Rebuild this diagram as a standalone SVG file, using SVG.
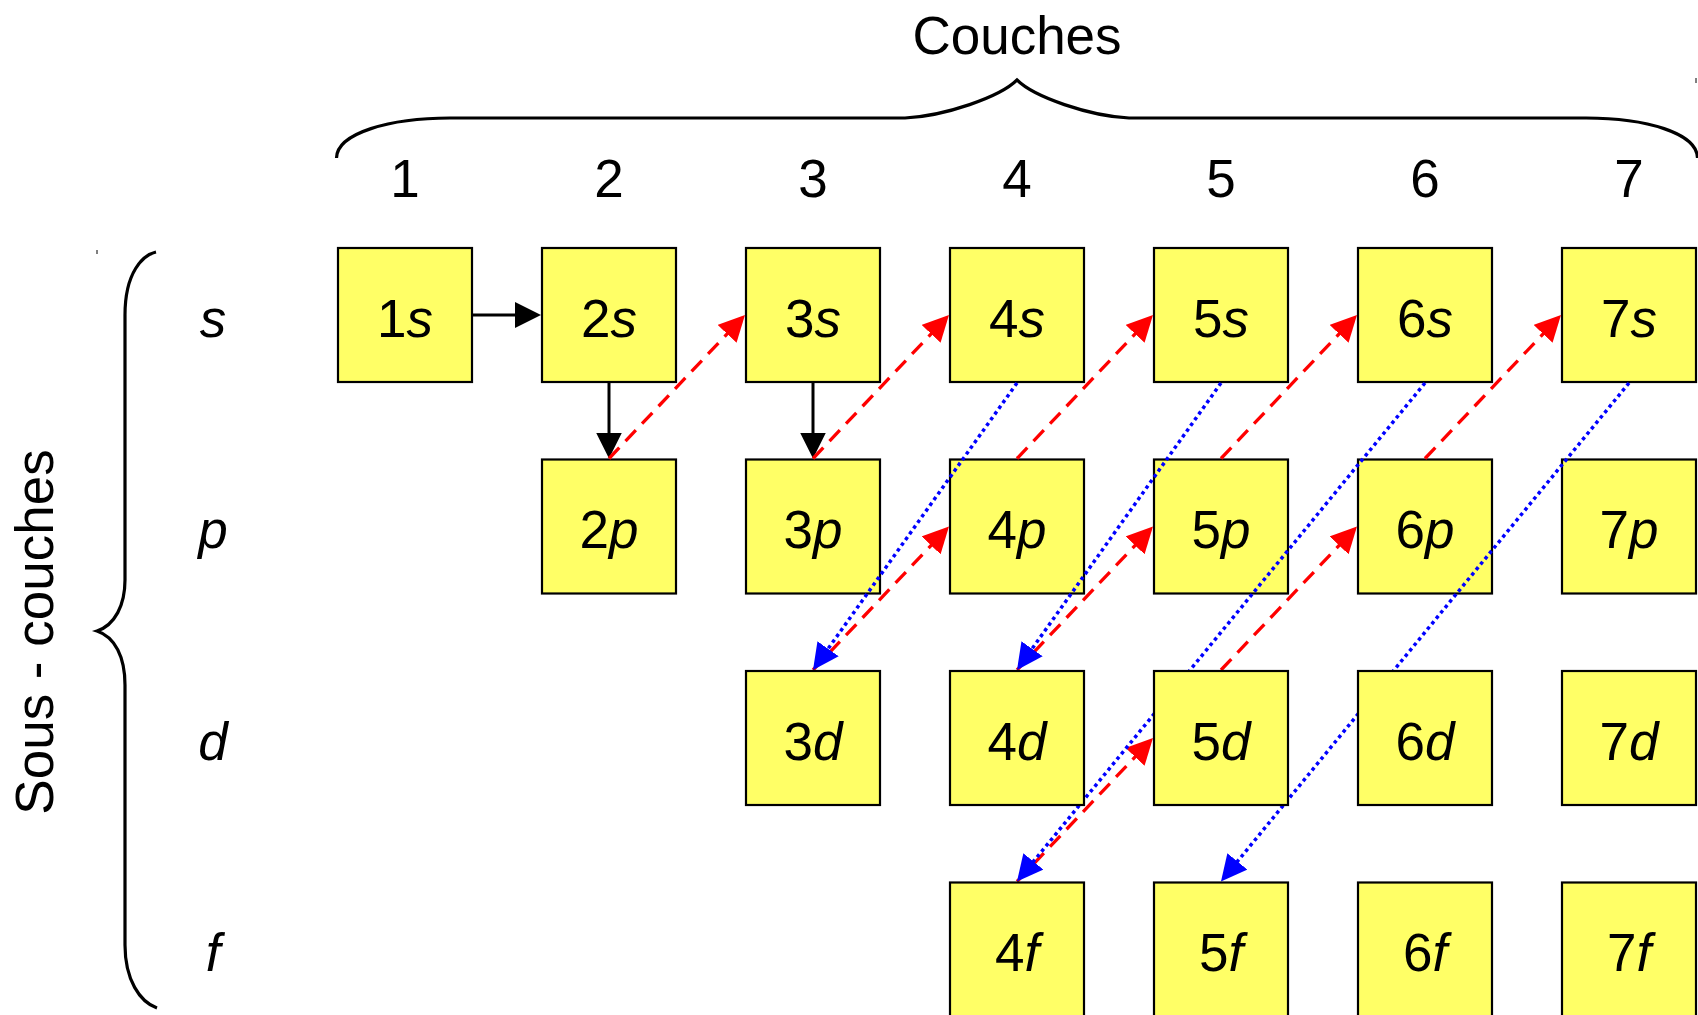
<svg xmlns="http://www.w3.org/2000/svg" width="1698" height="1015" viewBox="0 0 1698 1015">
<style>
text{font-family:"Liberation Sans",Arial,sans-serif;font-size:53px;fill:#000}
.c{text-anchor:middle}
.i{font-style:italic}
.box rect{fill:#FFFF66;stroke:#000;stroke-width:2.2}
.brace{fill:none;stroke:#000;stroke-width:3.2}
.blk{stroke:#000;stroke-width:3;fill:none}
.red{stroke:#FF0000;stroke-width:3.3;stroke-dasharray:15 9;fill:none}
.blu{stroke:#0000FF;stroke-width:3.5;stroke-dasharray:3.5 3.5;fill:none}
</style>
<defs>
<marker id="aK" markerUnits="userSpaceOnUse" markerWidth="26" markerHeight="26" refX="16" refY="13" orient="auto"><path d="M0,0 L26,13 L0,26 z" fill="#000"/></marker>
<marker id="aR" markerUnits="userSpaceOnUse" markerWidth="26" markerHeight="26" refX="16" refY="13" orient="auto"><path d="M0,0 L26,13 L0,26 z" fill="#FF0000"/></marker>
<marker id="aB" markerUnits="userSpaceOnUse" markerWidth="26" markerHeight="26" refX="16" refY="13" orient="auto"><path d="M0,0 L26,13 L0,26 z" fill="#0000FF"/></marker>
</defs>
<rect width="1698" height="1015" fill="#fff"/>
<g id="title-couches">
<text class="c" x="1017" y="54">Couches</text>
<path class="brace" d="M336.5,158 C337,133 390,118 450,118 L905,118 C945,116 1000,97 1017,80 C1034,97 1089,116 1129,118 L1586,118 C1646,118 1697,133 1697.5,158"/>
<line x1="1696" y1="78" x2="1696" y2="83" stroke="#000" stroke-width="1"/>
</g>
<g id="title-souscouches">
<text class="c" transform="translate(53,632) rotate(-90)">Sous - couches</text>
<path class="brace" d="M156,252 C143,255 125,272 125,315 L125,580 C125,605 115,625 97,631 C115,637 125,657 125,685 L125,945 C125,980 140,1002 157,1008"/>
<line x1="97" y1="250" x2="97" y2="254" stroke="#000" stroke-width="1"/>
</g>
<g id="column-numbers">
<text class="c" x="405" y="197">1</text>
<text class="c" x="609" y="197">2</text>
<text class="c" x="813" y="197">3</text>
<text class="c" x="1017" y="197">4</text>
<text class="c" x="1221" y="197">5</text>
<text class="c" x="1425" y="197">6</text>
<text class="c" x="1629" y="197">7</text>
</g>
<g id="row-labels">
<text class="c i" x="213" y="336.5">s</text>
<text class="c i" x="213" y="548">p</text>
<text class="c i" x="213" y="759.5">d</text>
<text class="c i" x="213" y="971">f</text>
</g>
<g id="n1s" class="box"><rect x="338" y="248" width="134" height="134"/><text class="c" x="405" y="336.5">1<tspan class="i">s</tspan></text></g>
<g id="n2s" class="box"><rect x="542" y="248" width="134" height="134"/><text class="c" x="609" y="336.5">2<tspan class="i">s</tspan></text></g>
<g id="n3s" class="box"><rect x="746" y="248" width="134" height="134"/><text class="c" x="813" y="336.5">3<tspan class="i">s</tspan></text></g>
<g id="n4s" class="box"><rect x="950" y="248" width="134" height="134"/><text class="c" x="1017" y="336.5">4<tspan class="i">s</tspan></text></g>
<g id="n5s" class="box"><rect x="1154" y="248" width="134" height="134"/><text class="c" x="1221" y="336.5">5<tspan class="i">s</tspan></text></g>
<g id="n6s" class="box"><rect x="1358" y="248" width="134" height="134"/><text class="c" x="1425" y="336.5">6<tspan class="i">s</tspan></text></g>
<g id="n7s" class="box"><rect x="1562" y="248" width="134" height="134"/><text class="c" x="1629" y="336.5">7<tspan class="i">s</tspan></text></g>
<g id="n2p" class="box"><rect x="542" y="459.5" width="134" height="134"/><text class="c" x="609" y="548">2<tspan class="i">p</tspan></text></g>
<g id="n3p" class="box"><rect x="746" y="459.5" width="134" height="134"/><text class="c" x="813" y="548">3<tspan class="i">p</tspan></text></g>
<g id="n4p" class="box"><rect x="950" y="459.5" width="134" height="134"/><text class="c" x="1017" y="548">4<tspan class="i">p</tspan></text></g>
<g id="n5p" class="box"><rect x="1154" y="459.5" width="134" height="134"/><text class="c" x="1221" y="548">5<tspan class="i">p</tspan></text></g>
<g id="n6p" class="box"><rect x="1358" y="459.5" width="134" height="134"/><text class="c" x="1425" y="548">6<tspan class="i">p</tspan></text></g>
<g id="n7p" class="box"><rect x="1562" y="459.5" width="134" height="134"/><text class="c" x="1629" y="548">7<tspan class="i">p</tspan></text></g>
<g id="connectors">
<line class="blk" x1="473" y1="315" x2="531" y2="315" marker-end="url(#aK)"/>
<line class="blk" x1="609" y1="383" x2="609" y2="448.5" marker-end="url(#aK)"/>
<line class="blk" x1="813" y1="383" x2="813" y2="448.5" marker-end="url(#aK)"/>
<line class="red" x1="609" y1="458.5" x2="738.1" y2="322.3" marker-end="url(#aR)"/>
<line class="red" x1="813" y1="458.5" x2="942.1" y2="322.3" marker-end="url(#aR)"/>
<line class="red" x1="813" y1="670" x2="942.1" y2="533.8" marker-end="url(#aR)"/>
<line class="red" x1="1017" y1="458.5" x2="1146.1" y2="322.3" marker-end="url(#aR)"/>
<line class="red" x1="1017" y1="670" x2="1146.1" y2="533.8" marker-end="url(#aR)"/>
<line class="red" x1="1221" y1="458.5" x2="1350.1" y2="322.3" marker-end="url(#aR)"/>
<line class="red" x1="1017" y1="881.5" x2="1146.1" y2="745.3" marker-end="url(#aR)"/>
<line class="red" x1="1221" y1="670" x2="1350.1" y2="533.8" marker-end="url(#aR)"/>
<line class="red" x1="1425" y1="458.5" x2="1554.1" y2="322.3" marker-end="url(#aR)"/>
<line class="blu" x1="1017" y1="383" x2="818.8" y2="661.8" marker-end="url(#aB)"/>
<line class="blu" x1="1221" y1="383" x2="1022.8" y2="661.8" marker-end="url(#aB)"/>
<line class="blu" x1="1425" y1="383" x2="1023.3" y2="873.8" marker-end="url(#aB)"/>
<line class="blu" x1="1629" y1="383" x2="1227.3" y2="873.8" marker-end="url(#aB)"/>
</g>
<g id="n3d" class="box"><rect x="746" y="671" width="134" height="134"/><text class="c" x="813" y="759.5">3<tspan class="i">d</tspan></text></g>
<g id="n4d" class="box"><rect x="950" y="671" width="134" height="134"/><text class="c" x="1017" y="759.5">4<tspan class="i">d</tspan></text></g>
<g id="n5d" class="box"><rect x="1154" y="671" width="134" height="134"/><text class="c" x="1221" y="759.5">5<tspan class="i">d</tspan></text></g>
<g id="n6d" class="box"><rect x="1358" y="671" width="134" height="134"/><text class="c" x="1425" y="759.5">6<tspan class="i">d</tspan></text></g>
<g id="n7d" class="box"><rect x="1562" y="671" width="134" height="134"/><text class="c" x="1629" y="759.5">7<tspan class="i">d</tspan></text></g>
<g id="n4f" class="box"><rect x="950" y="882.5" width="134" height="134"/><text class="c" x="1017" y="971">4<tspan class="i">f</tspan></text></g>
<g id="n5f" class="box"><rect x="1154" y="882.5" width="134" height="134"/><text class="c" x="1221" y="971">5<tspan class="i">f</tspan></text></g>
<g id="n6f" class="box"><rect x="1358" y="882.5" width="134" height="134"/><text class="c" x="1425" y="971">6<tspan class="i">f</tspan></text></g>
<g id="n7f" class="box"><rect x="1562" y="882.5" width="134" height="134"/><text class="c" x="1629" y="971">7<tspan class="i">f</tspan></text></g>
</svg>
